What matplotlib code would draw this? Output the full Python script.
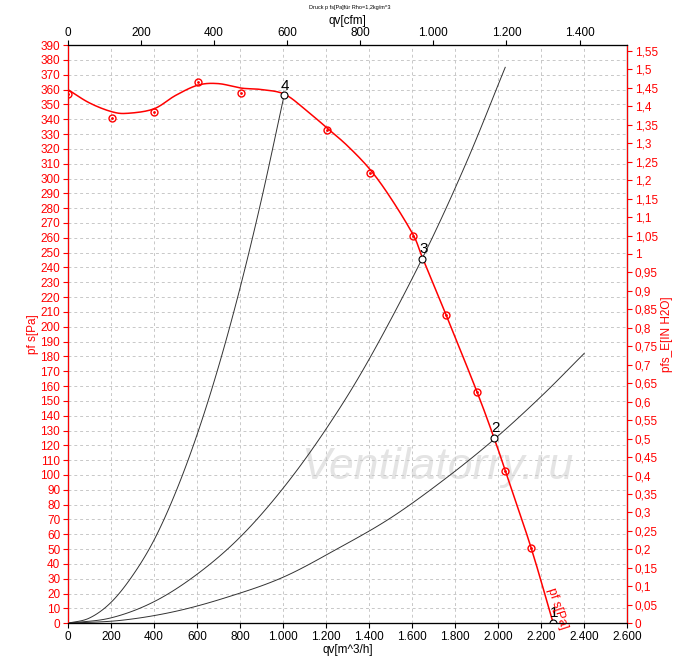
import numpy as np
import matplotlib.pyplot as plt
from matplotlib.ticker import FuncFormatter, MultipleLocator

plt.rcParams["font.family"] = ["Liberation Sans", "DejaVu Sans"]

# fan curve p_s [Pa] vs qv [m^3/h]
fan_q = [0, 100, 205, 280, 400, 500, 605, 700, 805, 900, 1005, 1100, 1205,
         1300, 1405, 1500, 1605, 1647, 1758, 1902, 1981, 2033, 2153, 2256]
fan_p = [360, 351, 345, 344, 347, 356, 363, 364, 361, 360, 357, 347, 334,
         322, 306, 287, 262, 247, 208, 156, 125, 103, 51, 0]
meas_q = [0, 205, 400, 605, 805, 1205, 1405, 1605, 1758, 1902, 2033, 2153]
meas_p = [357, 341, 345, 365, 358, 333, 304, 261, 208, 156, 103, 51]

# system curves
sys_a_q = [0, 100, 200, 300, 400, 500, 600, 700, 800, 900, 1005]
sys_a_p = [0, 3.5, 14, 32, 56, 88, 127, 173, 226, 286, 356]
sys_b_q = [0, 200, 400, 600, 800, 1000, 1200, 1400, 1647, 1850, 2033]
sys_b_p = [0, 3.6, 14.5, 33, 58, 91, 131, 178, 246, 310, 375]
sys_c_q = [0, 250, 500, 750, 1000, 1250, 1500, 1750, 1981, 2200, 2400]
sys_c_p = [0, 2, 8, 18, 31, 50, 71, 97, 124, 153, 182]

op_q = [2256, 1981, 1647, 1005]
op_p = [0, 125, 246, 356]
op_labels = ["1", "2", "3", "4"]

RED = "#ff0000"


def smooth(xs, ys, n=12):
    # Catmull-Rom through the read points so the line is not kinked
    x = np.asarray(xs, float)
    y = np.asarray(ys, float)
    px = np.concatenate([[2 * x[0] - x[1]], x, [2 * x[-1] - x[-2]]])
    py = np.concatenate([[2 * y[0] - y[1]], y, [2 * y[-1] - y[-2]]])
    t = np.linspace(0, 1, n, endpoint=False)[:, None]
    out_x, out_y = [], []
    for i in range(1, len(px) - 2):
        for arr, out in ((px, out_x), (py, out_y)):
            p0, p1, p2, p3 = arr[i - 1:i + 3]
            v = 0.5 * (2 * p1 + (-p0 + p2) * t + (2 * p0 - 5 * p1 + 4 * p2 - p3) * t ** 2
                       + (-p0 + 3 * p1 - 3 * p2 + p3) * t ** 3)
            out.extend(v.ravel())
    out_x.append(x[-1])
    out_y.append(y[-1])
    return out_x, out_y


def thousands(v, _):
    return f"{v:,.0f}".replace(",", ".")


fig = plt.figure(figsize=(7, 6.63), dpi=100)
ax = fig.add_axes([0.097, 0.060, 0.799, 0.872])

ax.set_xlim(0, 2600)
ax.set_ylim(0, 390)
ax.xaxis.set_major_locator(MultipleLocator(200))
ax.yaxis.set_major_locator(MultipleLocator(10))
ax.xaxis.set_major_formatter(FuncFormatter(thousands))
ax.grid(True, color="#c8c8c8", linestyle=(0, (3, 3)), linewidth=0.7)
ax.tick_params(labelsize=8.5, pad=2)
ax.tick_params(axis="y", colors=RED, labelcolor=RED)
ax.spines["left"].set_color(RED)
ax.set_xlabel("qv[m^3/h]", fontsize=8.5, labelpad=1)
ax.set_ylabel("pf s[Pa]", fontsize=8.5, color=RED, labelpad=1)

for q, p in [(sys_a_q, sys_a_p), (sys_b_q, sys_b_p), (sys_c_q, sys_c_p)]:
    ax.plot(*smooth(q, p), color="#333333", linewidth=0.7)

ax.plot(*smooth(fan_q, fan_p), color=RED, linewidth=1.1)
ax.plot(meas_q, meas_p, "o", mfc="none", mec=RED, ms=5, mew=1)
ax.plot(meas_q, meas_p, ".", color=RED, ms=2)
ax.plot(op_q, op_p, "o", mfc="white", mec="black", ms=5, mew=0.8, zorder=5)
for q, p, lab in zip(op_q, op_p, op_labels):
    ax.text(q + 5, p + 2, lab, fontsize=11, ha="center", va="bottom")
ax.text(2275, 10, "pf s[Pa]", color=RED, fontsize=9, rotation=-72,
        ha="center", va="center")

ax.text(0.66, 0.27, "Ventilatorry.ru", transform=ax.transAxes, fontsize=32,
        style="italic", color="#e4e4e4", ha="center", va="center", zorder=0)

# top axis in cfm
top = ax.twiny()
top.set_xlim(0, 2600 * 0.5886)
top.xaxis.set_major_locator(MultipleLocator(200))
top.xaxis.set_major_formatter(FuncFormatter(thousands))
top.tick_params(labelsize=8.5, pad=1)
top.set_xlabel("qv[cfm]", fontsize=8.5, labelpad=2)

# right axis in inH2O
right = ax.twinx()
right.set_ylim(0, 390 / 249.089)
right.yaxis.set_major_locator(MultipleLocator(0.05))
right.yaxis.set_major_formatter(
    FuncFormatter(lambda v, _: f"{v:.2f}".rstrip("0").rstrip(".").replace(".", ",")))
right.tick_params(labelsize=8.5, pad=2, colors=RED, labelcolor=RED)
right.spines["right"].set_color(RED)
right.spines["left"].set_color(RED)
right.set_ylabel("pfs_E[IN H2O]", fontsize=8.5, color=RED, labelpad=2)

fig.text(0.5, 0.988, "Druck p fs[Pa]für Rho=1,2kg/m^3", fontsize=4,
         ha="center", va="center")

fig.savefig("out.png", dpi=100)
